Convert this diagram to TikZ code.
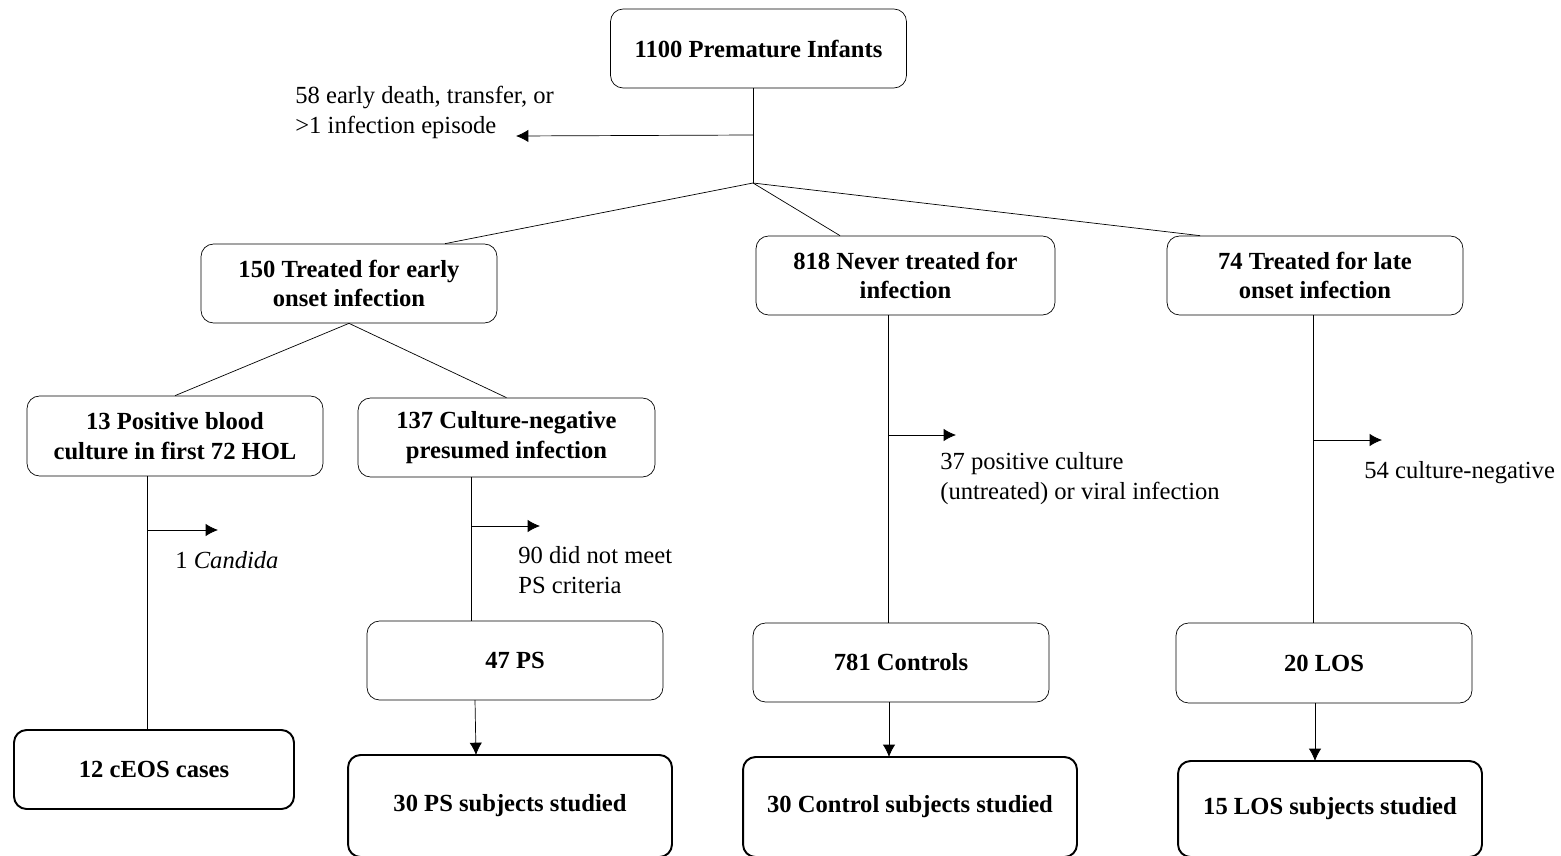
\documentclass[tikz,border=0pt]{standalone}
\usepackage{fontspec}
\setmainfont{Liberation Serif}
\usetikzlibrary{positioning,arrows.meta}

\begin{document}
\begin{tikzpicture}[x=0.02cm, y=-0.02cm,
      font=\fontsize{14}{17}\selectfont,
      box/.style = {draw, rounded corners=0.25cm, align=center, font=\fontsize{14}{17}\selectfont\bfseries,
                    minimum width=5.92cm, minimum height=1.58cm, inner sep=2pt},
      endbox/.style = {box, line width=1.1pt},
      note/.style = {align=left, inner sep=0pt},
      arrow/.style = {-{Latex[length=7pt,width=7pt]}}]
    \useasboundingbox (0,0) rectangle (1561,855);

    % nodes
    \node[box] (all) at (758.5,48.5) {1100 Premature Infants};
    \node[box] (early) at (349,283.5) {150 Treated for early\\onset infection};
    \node[box, minimum width=5.98cm] (never) at (905.5,275.5) {818 Never treated for\\infection};
    \node[box] (late) at (1315,275.5) {74 Treated for late\\onset infection};
    \node[box, minimum height=1.6cm] (pos) at (175,436) {13 Positive blood\\culture in first 72 HOL};
    \node[box, minimum width=5.94cm] (neg) at (506.5,437.5) {137 Culture-negative\\presumed infection};
    \node[box] (ps) at (515,660.5) {47 PS};
    \node[box] (ctrl) at (901,662.5) {781 Controls};
    \node[box, minimum height=1.6cm] (los) at (1324,663) {20 LOS};
    \node[endbox, minimum width=5.6cm] (ceos) at (154,769.5) {12 cEOS cases};
    \node[endbox, minimum width=6.48cm, minimum height=2.04cm] (psst) at (510,806) {30 PS subjects studied};
    \node[endbox, minimum width=6.68cm, minimum height=2.0cm] (ctst) at (910,807) {30 Control subjects studied};
    \node[endbox, minimum width=6.08cm, minimum height=1.92cm] (losst) at (1330,809) {15 LOS subjects studied};

    % side notes
    \node[note, anchor=north west] (lost) at (295,86) {58 early death, transfer, or\\{>}1 infection episode};
    \node[note, anchor=north west] (cand) at (175,551) {1 \textit{Candida}};
    \node[note, anchor=north west] (nomeet) at (518,546) {90 did not meet\\PS criteria};
    \node[note, anchor=north west] (viral) at (940,452) {37 positive culture\\(untreated) or viral infection};
    \node[note, anchor=north west] (cneg) at (1364,461) {54 culture-negative};

    % branch points
    \coordinate (split) at (753,183);
    \coordinate (s0) at (753,135);
    \coordinate (s1) at (147,530);
    \coordinate (s2) at (471,526);
    \coordinate (s3) at (888,435);
    \coordinate (s4) at (1313,440);

    % edges
    \draw (all.south -| split) -- (split);
    \draw[arrow] (s0) -- (516,136) coordinate (s0e);
    \draw (split) -- ([xshift=1.92cm]early.north);
    \draw (split) -- ([xshift=-1.31cm]never.north);
    \draw (split) -- ([xshift=-2.3cm]late.north);
    \draw (early.south) -- (pos.north);
    \draw (early.south) -- (neg.north);

    \draw (s1 |- pos.south) -- (s1 |- ceos.north);
    \draw[arrow] (s1) -- ++(71,0);
    \draw (s2 |- neg.south) -- (s2 |- ps.north);
    \draw[arrow] (s2) -- ++(69,0);
    \draw (s3 |- never.south) -- (s3 |- ctrl.north);
    \draw[arrow] (s3) -- ++(68,0);
    \draw (s4 |- late.south) -- (s4 |- los.north);
    \draw[arrow] (s4) -- ++(69,0);

    \draw[arrow] (475,700) -- (476,755);
    \draw[arrow] (889,702) -- (889,757);
    \draw[arrow] (1315,703) -- (1315,761);
  \end{tikzpicture}
\end{document}
